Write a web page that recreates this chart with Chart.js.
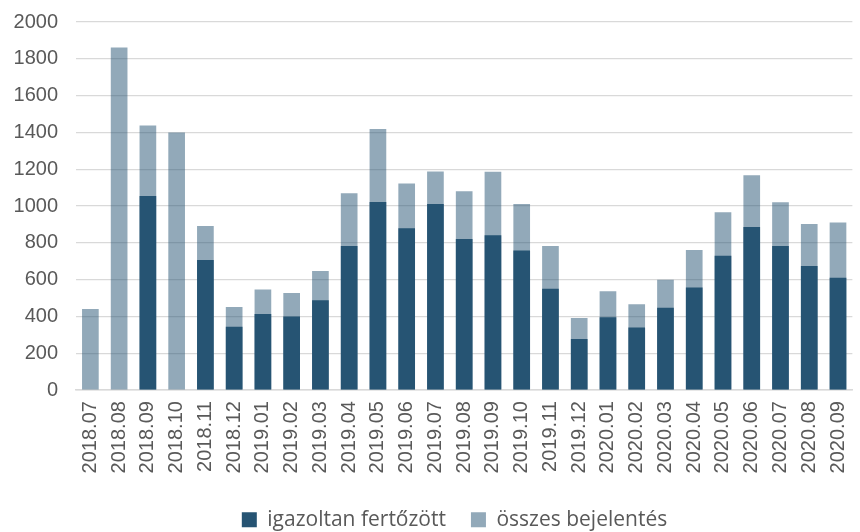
<!DOCTYPE html>
<html>
<head>
<meta charset="utf-8">
<script src="https://cdn.jsdelivr.net/npm/chart.js@4"></script>
<style>
  html, body { margin: 0; padding: 0; background: #ffffff; overflow: hidden; }
  #wrap { position: relative; width: 873px; height: 548.3px; margin-top: -8.3px; }
</style>
</head>
<body>
<div id="wrap"><canvas id="c"></canvas></div>
<script>
const categories = ['2018.07','2018.08','2018.09','2018.10','2018.11','2018.12',
  '2019.01','2019.02','2019.03','2019.04','2019.05','2019.06','2019.07','2019.08',
  '2019.09','2019.10','2019.11','2019.12','2020.01','2020.02','2020.03','2020.04',
  '2020.05','2020.06','2020.07','2020.08','2020.09'];
const confirmed = [0, 0, 1054, 0, 707, 344, 414, 400, 488, 783, 1022, 879, 1011, 821,
  841, 758, 550, 277, 396, 340, 447, 557, 730, 886, 783, 674, 611];
const allReports = [440, 1862, 1438, 1400, 891, 452, 546, 528, 647, 1069, 1419, 1123, 1188, 1081,
  1186, 1011, 783, 392, 537, 466, 600, 761, 966, 1168, 1020, 902, 911];
const seriesNames = ['igazoltan fertőzött', 'összes bejelentés'];

const tickFont = { family: '"Liberation Sans", Arial, sans-serif', size: 20 };

// shift legend so it is centred on the (wider, cropped) original chart
const legendShift = {
  id: 'legendShift',
  afterLayout(chart) {
    const lg = chart.legend;
    if (lg) { lg.left += 18; lg.right += 18; }
  }
};

new Chart(document.getElementById('c'), {
  type: 'bar',
  data: {
    labels: categories,
    datasets: [
      {
        label: seriesNames[0],
        data: confirmed,
        backgroundColor: '#265473',
        borderWidth: 0,
        grouped: false,
        barPercentage: 0.58,
        categoryPercentage: 1.0
      },
      {
        label: seriesNames[1],
        data: allReports,
        backgroundColor: 'rgba(38,84,115,0.5)',
        borderWidth: 0,
        grouped: false,
        barPercentage: 0.58,
        categoryPercentage: 1.0
      }
    ]
  },
  options: {
    responsive: true,
    maintainAspectRatio: false,
    animation: false,
    layout: { padding: { left: 0, right: 0, top: 0, bottom: 0 } },
    plugins: {
      tooltip: { enabled: false },
      legend: {
        position: 'bottom',
        labels: {
          boxWidth: 15,
          boxHeight: 15,
          padding: 25,
          color: '#595959',
          font: { family: '"Open Sans", sans-serif', size: 21 }
        }
      }
    },
    scales: {
      x: {
        stacked: false,
        offset: true,
        grid: { display: false, drawTicks: false },
        border: { display: true, color: '#d9d9d9', width: 1.5 },
        ticks: {
          autoSkip: false,
          minRotation: 90,
          maxRotation: 90,
          padding: 11,
          color: '#595959',
          font: tickFont
        },
        afterFit: (scale) => { scale.height = 94.2; }
      },
      y: {
        min: 0,
        max: 2000,
        grid: { color: '#d9d9d9', lineWidth: 1.3, drawTicks: false },
        border: { display: false },
        ticks: {
          stepSize: 200,
          padding: 18,
          color: '#595959',
          font: tickFont,
          callback: (v) => String(v)
        },
        afterFit: (scale) => { scale.width = 76; }
      }
    }
  },
  plugins: [legendShift]
});
</script>
</body>
</html>
